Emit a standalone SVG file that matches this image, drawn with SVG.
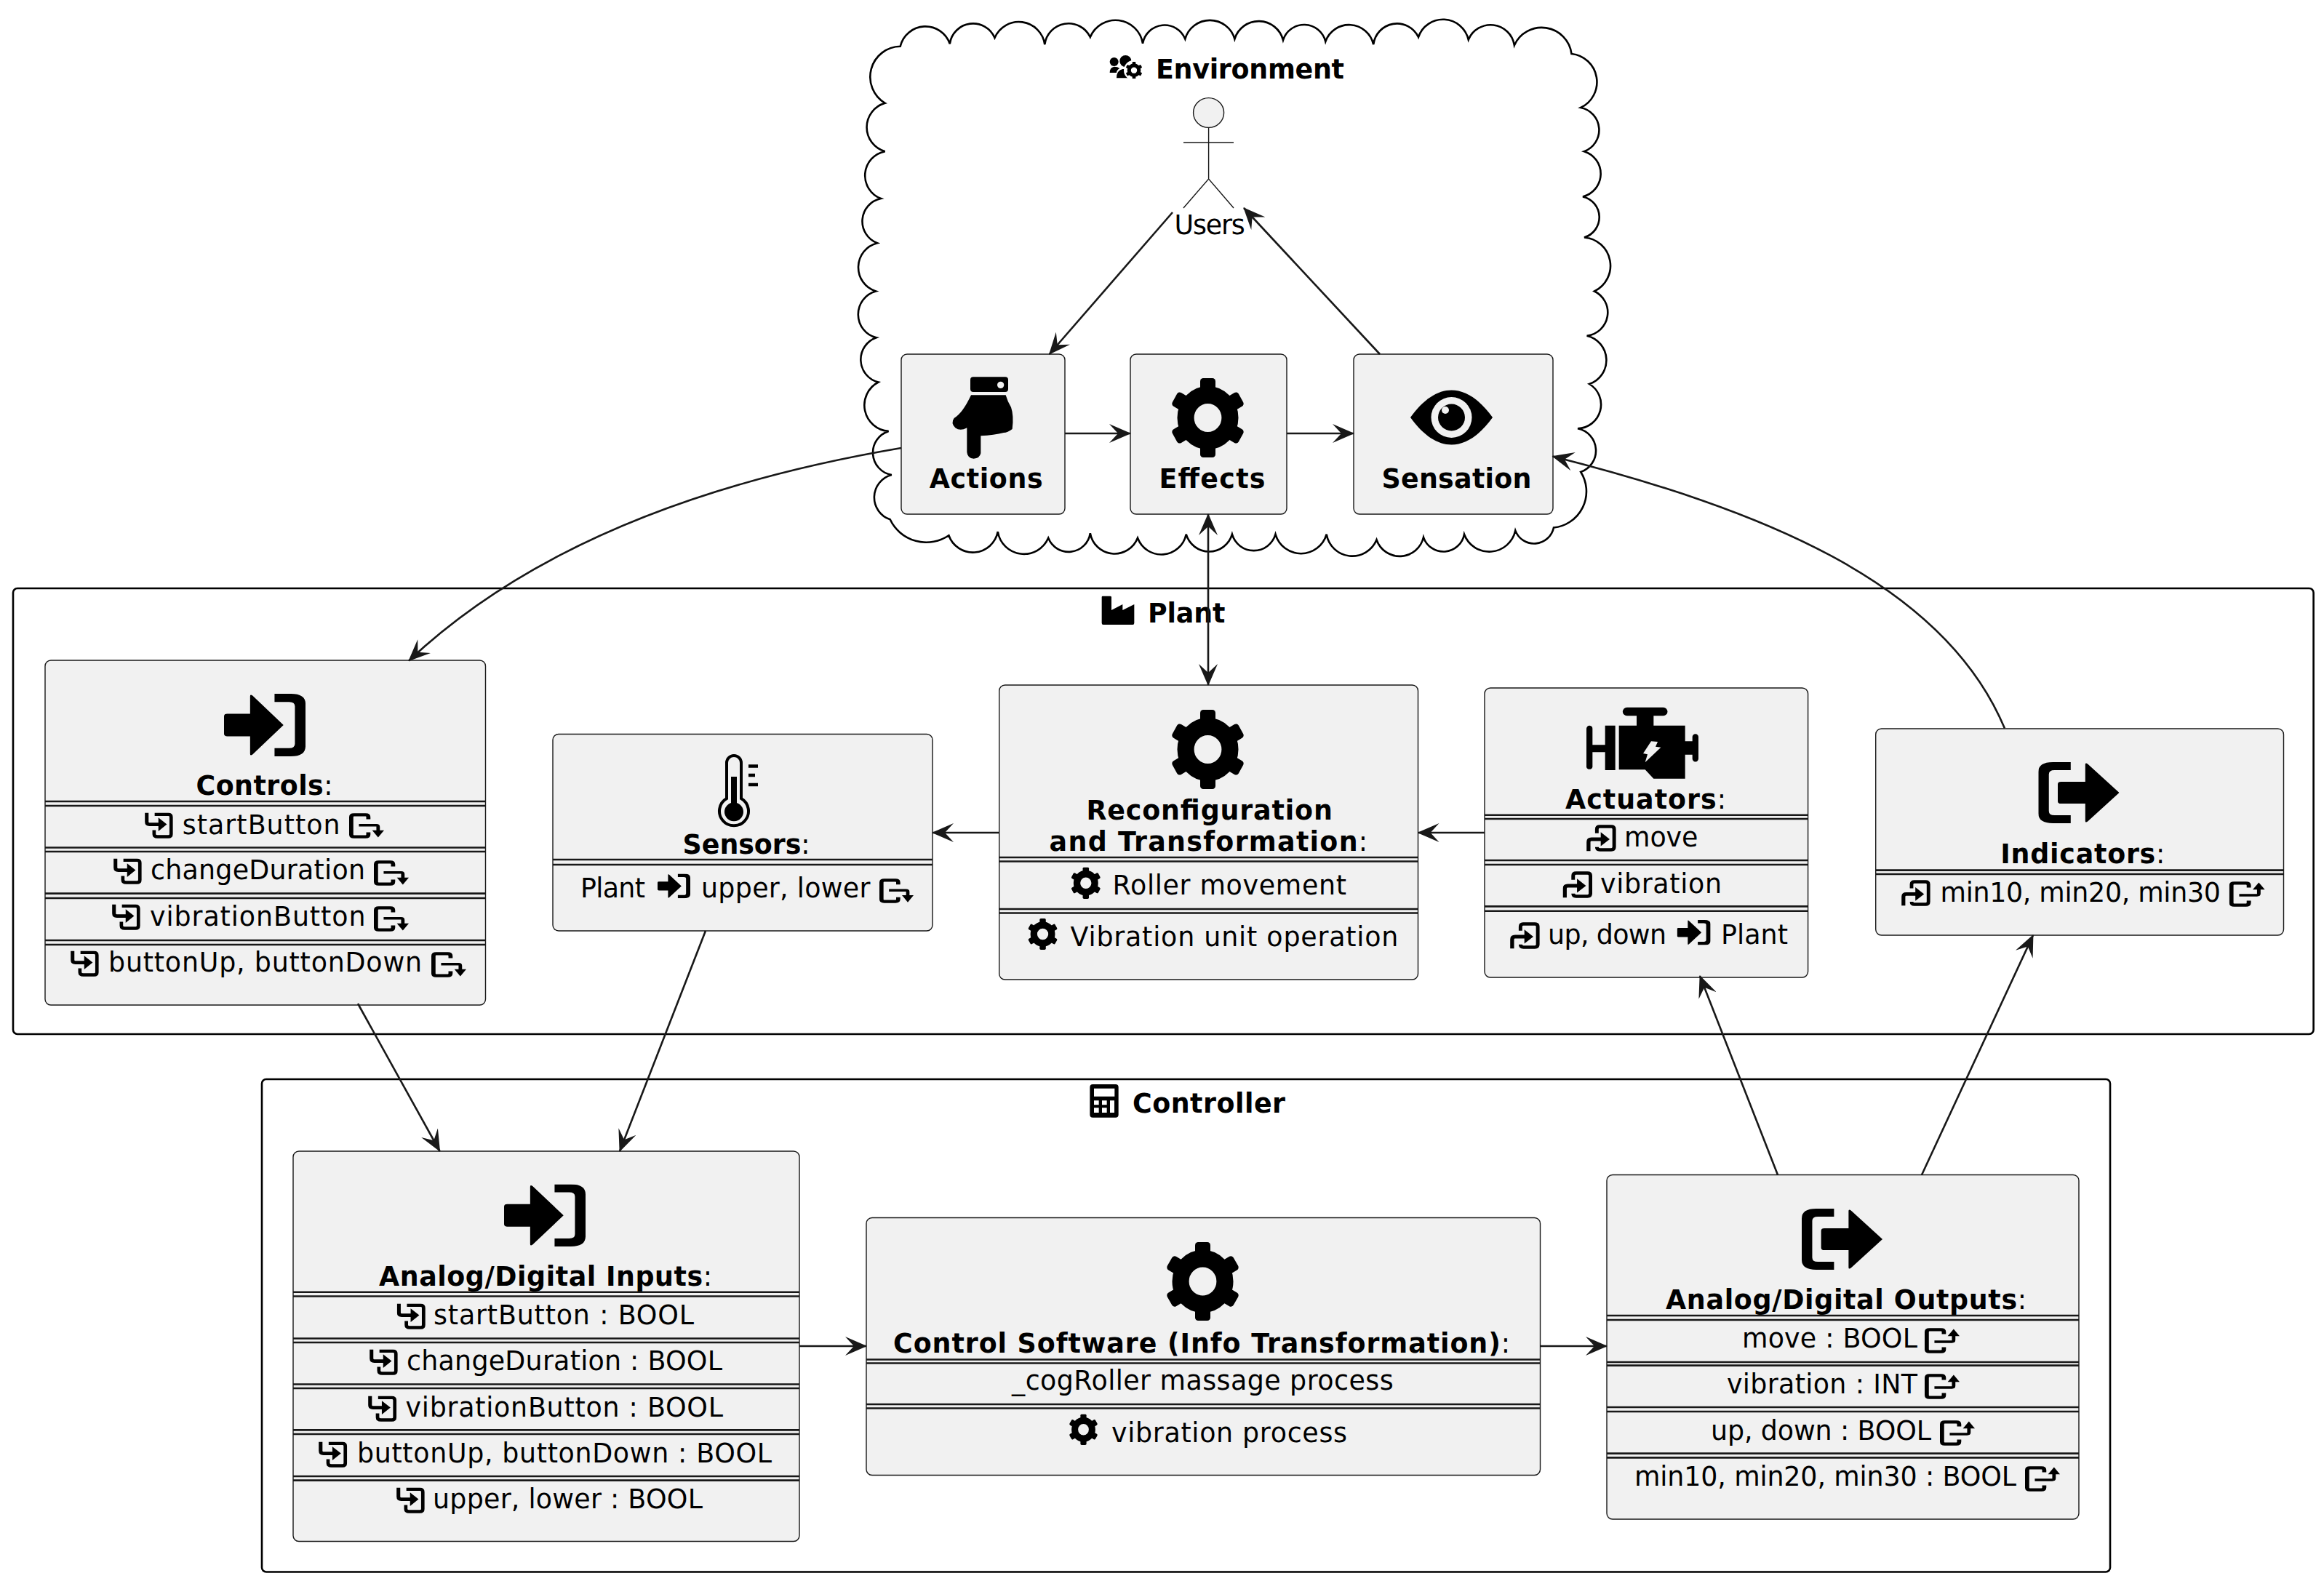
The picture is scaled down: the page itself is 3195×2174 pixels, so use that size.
<svg xmlns="http://www.w3.org/2000/svg" width="3195" height="2174" viewBox="0 0 3195 2174">
<style>
text{font-family:"DejaVu Sans",sans-serif;font-size:36.4px;fill:#000}
.b,tspan.b{font-weight:bold}
.box{fill:#F1F1F1;stroke:#181818;stroke-width:1.4}
.sep{fill:none;stroke:#181818;stroke-width:2.6}
.grp{fill:none;stroke:#000;stroke-width:2.6}
.act{fill:none;stroke:#181818;stroke-width:1.4}
.con{fill:none;stroke:#181818;stroke-width:2.6;marker-end:url(#ah)}
.both{marker-start:url(#ahs)}
.ic{fill:none;stroke:#000}
</style>
<defs>
<marker id="ah" markerUnits="userSpaceOnUse" viewBox="0 0 30 26" refX="29" refY="13" markerWidth="30" markerHeight="26" orient="auto"><path d="M30,13L0,0L12,13L0,26Z" fill="#181818"/></marker>
<marker id="ahs" markerUnits="userSpaceOnUse" viewBox="0 0 30 26" refX="29" refY="13" markerWidth="30" markerHeight="26" orient="auto-start-reverse"><path d="M30,13L0,0L12,13L0,26Z" fill="#181818"/></marker>
<symbol id="gear" viewBox="0 0 100 100" preserveAspectRatio="none">
<circle cx="50" cy="50" r="29" fill="none" stroke="#000" stroke-width="22"/>
<g fill="#000"><rect x="40" y="0" width="20" height="24" rx="4"/><rect x="40" y="76" width="20" height="24" rx="4"/>
<rect x="40" y="0" width="20" height="24" rx="4" transform="rotate(60 50 50)"/><rect x="40" y="0" width="20" height="24" rx="4" transform="rotate(120 50 50)"/>
<rect x="40" y="0" width="20" height="24" rx="4" transform="rotate(240 50 50)"/><rect x="40" y="0" width="20" height="24" rx="4" transform="rotate(300 50 50)"/></g>
</symbol>
<symbol id="signin" viewBox="0 0 100 100" preserveAspectRatio="none">
<path d="M4,32H32V4Q32,0 35,3L73,50L35,97Q32,100 32,96V68H4Q0,68 0,64V36Q0,32 4,32Z M62,0H82Q100,0 100,16V84Q100,100 82,100H62V87H80Q87,87 87,80V20Q87,13 80,13H62Z" fill="#000"/>
</symbol>
<symbol id="signout" viewBox="0 0 100 100" preserveAspectRatio="none">
<path d="M28,32H58V4Q58,0 61,3L100,50L61,97Q58,100 58,96V68H28Q24,68 24,64V36Q24,32 28,32Z M40,0H18Q0,0 0,16V84Q0,100 18,100H40V87H20Q13,87 13,80V20Q13,13 20,13H40Z" fill="#000"/>
</symbol>
<symbol id="li" viewBox="0 0 100 100" preserveAspectRatio="none">
<path class="ic" stroke-width="13" d="M7,2V36Q7,46 17,46H55"/><path d="M48,20L78,46L48,72Z" fill="#000"/>
<path class="ic" stroke-width="12" d="M35,8H83Q93,8 93,18V83Q93,93 83,93H45Q33,93 33,83V68"/>
</symbol>
<symbol id="lo" viewBox="0 0 100 100" preserveAspectRatio="none">
<path class="ic" stroke-width="13" d="M7,98V64Q7,54 17,54H55"/><path d="M48,28L78,54L48,80Z" fill="#000"/>
<path class="ic" stroke-width="12" d="M35,32V17Q35,7 45,7H83Q93,7 93,17V83Q93,93 83,93H45Q35,93 35,83"/>
</symbol>
<symbol id="rd" viewBox="0 0 100 100" preserveAspectRatio="none">
<path class="ic" stroke-width="12" d="M55,24V16Q55,7 47,7H14Q6,7 6,16V84Q6,93 14,93H47Q55,93 55,84V76"/>
<path class="ic" stroke-width="10" d="M28,48H78Q83,48 83,54V72"/><path d="M66,68H100L83,96Z" fill="#000"/>
</symbol>
<symbol id="ru" viewBox="0 0 100 100" preserveAspectRatio="none">
<path class="ic" stroke-width="12" d="M55,24V16Q55,7 47,7H14Q6,7 6,16V84Q6,93 14,93H47Q55,93 55,84V76"/>
<path class="ic" stroke-width="10" d="M28,54H78Q83,54 83,48V30"/><path d="M66,32H100L83,4Z" fill="#000"/>
</symbol>
</defs>

<g id="clusters">
<path id="cloud-environment" class="grp" d="M1237.7,63.8A35.500,35.500 0 0 1 1305.8,60.2A32.300,32.300 0 0 1 1367.5,52A36,36 0 0 1 1436.3,61.2A33,33 0 0 1 1498.8,51A37.800,37.800 0 0 1 1571,59.7A30.500,30.500 0 0 1 1629.3,53.6A35.400,35.400 0 0 1 1697.4,53.6A34.600,34.600 0 0 1 1764,55.1A30.300,30.300 0 0 1 1822.3,57.1A34.300,34.300 0 0 1 1888.2,61.2A32.600,32.600 0 0 1 1950,51A35.800,35.800 0 0 1 2018.8,54.6A33,33 0 0 1 2081.9,62.2A41.300,41.300 0 0 1 2160.5,74A39,39 0 0 1 2173.2,148A31.400,31.400 0 0 1 2178,208.2A32.300,32.300 0 0 1 2176,270.4A29,29 0 0 1 2178,326.5A39,39 0 0 1 2192,400.5A32.300,32.300 0 0 1 2181.6,461.7A34.500,34.500 0 0 1 2185,528A33,33 0 0 1 2169,589.3A31,31 0 0 1 2173.2,649A50,50 0 0 1 2136,725.5A27.500,27.500 0 0 1 2083.3,729.6A36.700,36.700 0 0 1 2013,734.7A29,29 0 0 1 1957,738.8A33.600,33.600 0 0 1 1892.5,742.3A36,36 0 0 1 1823.7,734.7A36.500,36.500 0 0 1 1753.5,734.7A31,31 0 0 1 1693.9,734.7A32.900,32.900 0 0 1 1630.7,734.7A34.800,34.800 0 0 1 1564,739.8A34,34 0 0 1 1498.8,733.2A30,30 0 0 1 1441.2,739.8A36.400,36.400 0 0 1 1371.8,731.1A35,35 0 0 1 1304.4,736.2A55,55 0 0 1 1223.7,714.3A32,32 0 0 1 1225.8,653A31,31 0 0 1 1221.6,592.9A35.800,35.800 0 0 1 1207.5,525.5A32,32 0 0 1 1204.7,464.3A33,33 0 0 1 1204,400.5A34.500,34.500 0 0 1 1206,334.2A32,32 0 0 1 1211,273A33.800,33.800 0 0 1 1216.7,208.2A34.500,34.500 0 0 1 1216.7,141.8A42,42 0 0 1 1237.7,63.8Z"/>
<g id="title-environment">
<svg x="1510" y="70" width="80" height="50" viewBox="0 0 240 150"><circle cx="65" cy="45" r="18"/><circle cx="112" cy="42" r="24"/><path d="M47,90Q47,68 65,65Q80,65 88,72Q75,80 75,90Z"/><path d="M75,112Q75,80 100,75H128Q140,80 130,112Z"/><circle cx="147" cy="80" r="42" fill="#fff"/><use href="#gear" x="112" y="45" width="70" height="70"/></svg>
<text class="b" x="1589" y="108" textLength="259">Environment</text></g>
<rect id="frame-plant" class="grp" x="18" y="809" width="3162.600" height="613" rx="6"/>
<g id="title-plant"><svg x="1500" y="815" width="70" height="50" viewBox="0 0 210 150"><path d="M44,18Q44,14 48,14H78Q84,14 84,18V72L130,48V72L178,48V125Q178,132 172,132H50Q44,132 44,125Z"/></svg>
<text class="b" x="1578" y="856" textLength="106.300">Plant</text></g>
<rect id="frame-controller" class="grp" x="360" y="1484" width="2541" height="677.5" rx="6"/>
<g id="title-controller"><svg x="1490" y="1485" width="70" height="60" viewBox="0 0 210 180"><path fill-rule="evenodd" d="M37,18H131Q143,18 143,30V143Q143,155 131,155H37Q25,155 25,143V30Q25,18 37,18Z M42,35V68H127V35Z M42,85V103H62V85Z M75,85V103H95V85Z M42,115V135H62V115Z M75,115V135H95V115Z M108,85V135H126V85Z"/></svg>
<text class="b" x="1557" y="1530" textLength="210">Controller</text></g>
</g>

<g id="node-users">
<ellipse class="box" cx="1661.6" cy="155" rx="21" ry="20.4"/>
<path class="act" d="M1661.6,175.5V246M1627,196H1696M1627,286L1661.6,246L1696,286"/>
<text x="1614.6" y="322" textLength="97">Users</text>
</g>

<g id="node-actions">
<rect class="box" x="1239" y="487" width="225" height="220" rx="8"/>
<svg x="1290" y="510" width="120" height="130" viewBox="0 0 360 390"><path fill-rule="evenodd" d="M144,25H276Q288,25 288,37V75Q288,87 276,87H144Q132,87 132,75V37Q132,25 144,25Z M271,58A14,14 0 1 0 243,58A14,14 0 1 0 271,58Z"/><path d="M135,100H278Q285,125 300,150Q312,185 305,240Q285,255 270,255Q230,265 175,268V340Q170,362 146,362Q120,360 118,335V235Q90,250 70,235Q50,215 65,195Q100,175 135,100Z"/></svg>
<text class="b" x="1277.7" y="671" textLength="156">Actions</text>
</g>
<g id="node-effects">
<rect class="box" x="1554" y="487" width="215" height="220" rx="8"/>
<use href="#gear" x="1608" y="520" width="105" height="109"/>
<text class="b" x="1593.5" y="671" textLength="146">Effects</text>
</g>
<g id="node-sensation">
<rect class="box" x="1861" y="487" width="274" height="220" rx="8"/>
<path d="M1939,574C1975,524 2016,524 2052,574C2016,624 1975,624 1939,574Z"/>
<circle cx="1995.5" cy="574" r="28" fill="#F1F1F1"/><circle cx="1995.5" cy="574" r="18.5"/><circle cx="1987" cy="564" r="5" fill="#F1F1F1"/>
<text class="b" x="1899.5" y="671" textLength="206">Sensation</text>
</g>

<g id="node-controls">
<rect class="box" x="62" y="908" width="605.5" height="474" rx="8"/>
<use href="#signin" x="308" y="954" width="112" height="86"/>
<text x="269.5" y="1093" textLength="188"><tspan class="b">Controls</tspan>:</text>
<path class="sep" d="M62,1102H667.5M62,1108H667.5M62,1165.5H667.5M62,1171H667.5M62,1228.6H667.5M62,1235H667.5M62,1293H667.5M62,1299H667.5"/>
<use href="#li" x="199" y="1117" width="39" height="36"/><text x="250.7" y="1146.5" textLength="217">startButton</text><use href="#rd" x="480" y="1118" width="48" height="35"/>
<use href="#li" x="156" y="1180" width="39" height="36"/><text x="207" y="1209" textLength="295">changeDuration</text><use href="#rd" x="514" y="1183" width="48" height="35"/>
<use href="#li" x="154" y="1243" width="39" height="36"/><text x="206" y="1272.6" textLength="296.500">vibrationButton</text><use href="#rd" x="514" y="1246" width="48" height="35"/>
<use href="#li" x="97" y="1307" width="39" height="36"/><text x="149" y="1336" textLength="431">buttonUp, buttonDown</text><use href="#rd" x="593" y="1309" width="48" height="35"/>
</g>

<g id="node-sensors">
<rect class="box" x="760" y="1009.500" width="522" height="270.500" rx="8"/>
<g class="thermo"><path class="ic" stroke-width="4" d="M999,1098V1049A10,10 0 0 1 1019,1049V1098A20,20 0 1 1 999,1098Z"/><path d="M1005,1068H1013V1104A13,13 0 1 1 1005,1104Z"/><path class="ic" stroke-width="4.500" d="M1029,1053.500H1042M1029,1066H1038M1029,1079H1042"/></g>
<text x="938.6" y="1174" textLength="175"><tspan class="b">Sensors</tspan>:</text>
<path class="sep" d="M760,1182H1282M760,1189H1282"/>
<text x="798" y="1234" textLength="89">Plant</text><use href="#signin" x="904" y="1201.6" width="45" height="33.6"/><text x="964" y="1234" textLength="232.500">upper, lower</text><use href="#rd" x="1209" y="1208" width="47" height="34"/>
</g>

<g id="node-reconfiguration">
<rect class="box" x="1373.700" y="942" width="575.800" height="405" rx="8"/>
<use href="#gear" x="1608" y="976" width="105" height="109"/>
<text x="1493.4" y="1127" class="b" textLength="338.400">Reconfiguration</text>
<text x="1442.6" y="1170" textLength="437.500"><tspan class="b">and Transformation</tspan>:</text>
<path class="sep" d="M1373.700,1179H1949.500M1373.700,1184.500H1949.500M1373.700,1250H1949.500M1373.700,1255.500H1949.500"/>
<use href="#gear" x="1471.600" y="1192.5" width="42.400" height="43.500"/><text x="1529.600" y="1230" textLength="321.500">Roller movement</text>
<use href="#gear" x="1412.400" y="1263" width="42.300" height="43"/><text x="1471.6" y="1301" textLength="450.800">Vibration unit operation</text>
</g>

<g id="node-actuators">
<rect class="box" x="2041" y="946" width="444.600" height="398" rx="8"/>
<svg x="2170" y="960" width="190" height="120" viewBox="0 0 570 360"><path d="M46,113A13,13 0 0 1 58,126V193H110V113H152V297H110V223H58V284A13,13 0 0 1 33,284V126A13,13 0 0 1 46,113Z"/><path fill-rule="evenodd" d="M200,38H350A17.500,17.500 0 0 1 350,73H310V113H440V178H470V160A12.500,12.500 0 0 1 495,160V250A12.500,12.500 0 0 1 470,250V233H440V332H310L275,295H167V113H240V73H200A17.500,17.500 0 0 1 200,38Z M300,178L327,180L318,200L340,203L275,265L285,232L267,228Z"/></svg>
<text x="2152" y="1111.6" textLength="221"><tspan class="b">Actuators</tspan>:</text>
<path class="sep" d="M2041,1120.700H2485.600M2041,1126H2485.600M2041,1183H2485.600M2041,1189H2485.600M2041,1246.400H2485.600M2041,1252.700H2485.600"/>
<use href="#lo" x="2181" y="1134" width="41" height="37"/><text x="2233" y="1164" textLength="101.500">move</text>
<use href="#lo" x="2148.400" y="1198" width="41" height="37"/><text x="2200" y="1228" textLength="167">vibration</text>
<use href="#lo" x="2076" y="1268" width="41" height="37"/><text x="2128" y="1298" textLength="163">up, down</text><use href="#signin" x="2305.600" y="1265" width="46" height="34.500"/><text x="2366" y="1298" textLength="92">Plant</text>
</g>

<g id="node-indicators">
<rect class="box" x="2578.700" y="1002" width="560.800" height="284" rx="8"/>
<use href="#signout" x="2802.300" y="1048" width="111.200" height="84"/>
<text x="2750.300" y="1187" textLength="226"><tspan class="b">Indicators</tspan>:</text>
<path class="sep" d="M2578.700,1196.600H3139.500M2578.700,1202H3139.500"/>
<use href="#lo" x="2614" y="1210" width="40" height="36"/><text x="2667.500" y="1240" textLength="385.400">min10, min20, min30</text><use href="#ru" x="3064.700" y="1212" width="49" height="35"/>
</g>

<g id="node-inputs">
<rect class="box" x="403" y="1583" width="696" height="536.500" rx="8"/>
<use href="#signin" x="693" y="1628.500" width="112" height="85.500"/>
<text x="521" y="1768" textLength="458"><tspan class="b">Analog/Digital Inputs</tspan>:</text>
<path class="sep" d="M403,1776.700H1099M403,1782.500H1099M403,1840.500H1099M403,1846H1099M403,1903.500H1099M403,1909H1099M403,1966.400H1099M403,1972H1099M403,2030H1099M403,2035.600H1099"/>
<use href="#li" x="545.600" y="1792" width="39.500" height="36"/><text x="596" y="1820.500" textLength="358">startButton : BOOL</text>
<use href="#li" x="508" y="1855" width="39" height="36"/><text x="559" y="1884" textLength="434">changeDuration : BOOL</text>
<use href="#li" x="506" y="1919" width="39.500" height="36"/><text x="557.500" y="1948" textLength="436.500">vibrationButton : BOOL</text>
<use href="#li" x="438" y="1982" width="39.500" height="36"/><text x="491" y="2011" textLength="570">buttonUp, buttonDown : BOOL</text>
<use href="#li" x="545" y="2045" width="39" height="36"/><text x="595" y="2074" textLength="371">upper, lower : BOOL</text>
</g>

<g id="node-software">
<rect class="box" x="1191" y="1674.500" width="926.500" height="354" rx="8"/>
<use href="#gear" x="1601" y="1708" width="105" height="108"/>
<text x="1228" y="1860" textLength="848"><tspan class="b">Control Software (Info Transformation)</tspan>:</text>
<path class="sep" d="M1191,1869.500H2117.500M1191,1874.500H2117.500M1191,1931H2117.500M1191,1936.500H2117.500"/>
<text x="1391" y="1911" textLength="524.600">_cogRoller massage process</text>
<use href="#gear" x="1469" y="1944.500" width="41" height="42.500"/><text x="1528" y="1983" textLength="324">vibration process</text>
</g>

<g id="node-outputs">
<rect class="box" x="2209" y="1615.500" width="649" height="473.500" rx="8"/>
<use href="#signout" x="2477" y="1662" width="111" height="84"/>
<text x="2290" y="1800" textLength="496"><tspan class="b">Analog/Digital Outputs</tspan>:</text>
<path class="sep" d="M2209,1809H2858M2209,1815H2858M2209,1873H2858M2209,1877.600H2858M2209,1935H2858M2209,1941H2858M2209,1998.600H2858M2209,2004.400H2858"/>
<text x="2395" y="1853" textLength="241">move : BOOL</text><use href="#ru" x="2646" y="1826" width="48" height="35"/>
<text x="2374" y="1916.400" textLength="262">vibration : INT</text><use href="#ru" x="2646" y="1889" width="48" height="35"/>
<text x="2352" y="1980" textLength="303">up, down : BOOL</text><use href="#ru" x="2667" y="1953" width="48" height="35"/>
<text x="2247" y="2043" textLength="525">min10, min20, min30 : BOOL</text><use href="#ru" x="2784" y="2016" width="48" height="35"/>
</g>

<g id="connectors">
<path class="con" d="M1612,292L1442.600,487"/>
<path class="con" d="M1897,487L1710,286"/>
<path class="con" d="M1464,596H1554"/>
<path class="con" d="M1769,596H1861"/>
<path class="con both" d="M1661,707V942"/>
<path class="con" d="M1239,616C950,665 720,760 562,908.500"/>
<path class="con" d="M2756,1001.600C2672,800 2420,700 2134.500,627.500"/>
<path class="con" d="M1373.700,1145H1282"/>
<path class="con" d="M2041,1145H1949.500"/>
<path class="con" d="M492,1380L604.600,1583"/>
<path class="con" d="M970,1280L852,1583"/>
<path class="con" d="M1099,1851H1191"/>
<path class="con" d="M2117.500,1851H2209"/>
<path class="con" d="M2444,1615.500L2337,1342"/>
<path class="con" d="M2642,1615.500L2795,1286"/>
</g>
</svg>
